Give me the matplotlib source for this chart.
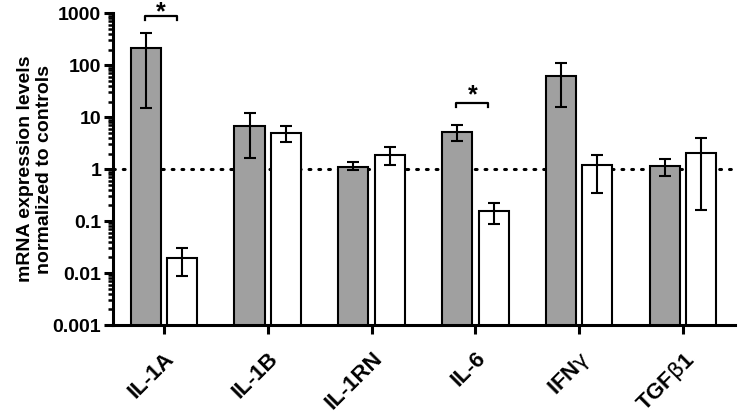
import matplotlib
matplotlib.use("Agg")
import matplotlib.pyplot as plt
import numpy as np
from matplotlib.ticker import LogLocator, FixedLocator, NullFormatter

genes = ["IL-1A", "IL-1B", "IL-1RN", "IL-6", "IFN$\\mathrm{\\gamma}$", "TGF$\\mathrm{\\beta}$1"]
gray_vals = [212, 6.9, 1.12, 5.3, 63, 1.17]
gray_hi = [424, 11.9, 1.39, 7.1, 109, 1.58]
gray_lo = [15.3, 1.66, 0.97, 3.55, 16, 0.74]
white_vals = [0.0197, 5.06, 1.91, 0.158, 1.18, 2.09]
white_hi = [0.0307, 6.9, 2.65, 0.228, 1.87, 4.06]
white_lo = [0.0089, 3.4, 1.19, 0.0875, 0.355, 0.16]
sig_groups = [0, 3]
sig_y = [887, 19.1]
star_y = [770, 19.0]
yticks = [0.001, 0.01, 0.1, 1, 10, 100, 1000]
ytick_labels = ["0.001", "0.01", "0.1", "1", "10", "100", "1000"]

plt.rcParams['font.family'] = ['Liberation Sans', 'DejaVu Sans']
plt.rcParams['mathtext.fontset'] = 'dejavusans'

fig = plt.figure(figsize=(7.38, 4.12), dpi=100)
ax = fig.add_axes([113/738, 1-325/412, (735-113)/738, (325-13.3)/412])

x = np.arange(len(genes))
w = 0.29
off = 0.175
gv = np.array(gray_vals); wv = np.array(white_vals)
gerr = [gv - np.array(gray_lo), np.array(gray_hi) - gv]
werr = [wv - np.array(white_lo), np.array(white_hi) - wv]

ax.axhline(1, color='black', lw=2.2, linestyle=(0, (0.6, 2.6)), dash_capstyle='round', zorder=1)
ax.bar(x - off, gv, width=w, color='#a0a0a0', edgecolor='black', linewidth=1.5, zorder=2)
ax.bar(x + off, wv, width=w, color='white', edgecolor='black', linewidth=1.5, zorder=2)
ax.errorbar(x - off, gv, yerr=gerr, fmt='none', ecolor='black', elinewidth=1.5, capsize=4, capthick=1.5, zorder=3)
ax.errorbar(x + off, wv, yerr=werr, fmt='none', ecolor='black', elinewidth=1.5, capsize=4, capthick=1.5, zorder=3)

for g, yv, sy in zip(sig_groups, sig_y, star_y):
    x0, x1 = g - 0.183, g + 0.125
    ylo = yv / 1.22
    ax.plot([x0, x0, x1, x1], [ylo, yv, yv, ylo], color='black', lw=1.6, zorder=4, clip_on=False)
    ax.text((x0 + x1) / 2, sy, "*", ha='center', va='baseline', fontsize=18,
            fontweight='bold', zorder=4, clip_on=False)

ax.set_yscale('log')
ax.set_ylim(0.001, 1000)
ax.set_xlim(-0.49, 5.5)
ax.yaxis.set_major_locator(FixedLocator(yticks))
ax.set_yticklabels(ytick_labels, fontsize=14, fontweight='bold')
ax.yaxis.set_minor_locator(LogLocator(base=10, subs=np.arange(2, 10), numticks=20))
ax.yaxis.set_minor_formatter(NullFormatter())
ax.set_xticks(x)
ax.set_xticklabels(genes, fontsize=16, fontweight='bold', rotation=45, ha='right', va='top',
                   rotation_mode='anchor')

for s in ['top', 'right']:
    ax.spines[s].set_visible(False)
for s in ['left', 'bottom']:
    ax.spines[s].set_linewidth(2.2)
ax.tick_params(axis='both', which='major', width=2.2, length=6.5, direction='out', pad=2)
ax.tick_params(axis='y', which='minor', width=1.8, length=3.5, direction='out')
ax.tick_params(axis='x', which='major', pad=10)

ax.set_ylabel("mRNA expression levels\nnormalized to controls", fontsize=14, fontweight='bold',
              labelpad=0, linespacing=1.15)

fig.savefig("out.png", dpi=100)
